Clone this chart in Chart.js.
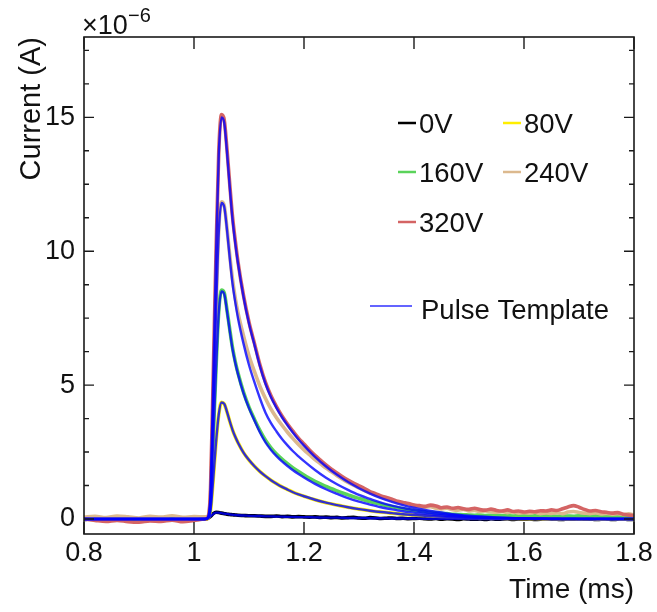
<!DOCTYPE html>
<html>
<head>
<meta charset="utf-8">
<script src="https://cdn.jsdelivr.net/npm/chart.js@4.4.1/dist/chart.umd.min.js"></script>
<style>
  html, body { margin: 0; padding: 0; background: #fff; }
  #wrap { width: 657px; height: 612px; position: relative; }
</style>
</head>
<body>
<div id="wrap"><canvas id="pulse_chart"></canvas></div>
<script>
// ---- data (current in units of 1e-6 A) ----
const xTicks = [0.8, 1, 1.2, 1.4, 1.6, 1.8];
const yTicks = [0, 5, 10, 15];
const voltLabels = ['0V', '80V', '160V', '240V', '320V'];

// measured traces share this time axis (ms)
const dataTime = [
  0.80, 0.82, 0.84, 0.86, 0.88, 0.90, 0.92, 0.94, 0.96, 0.98, 1.00, 1.02,
  1.025, 1.030, 1.035, 1.040, 1.045, 1.050, 1.055, 1.060, 1.065, 1.070, 1.075, 1.080,
  1.09, 1.10, 1.11, 1.12, 1.13, 1.14, 1.15, 1.16, 1.17, 1.18, 1.19, 1.20,
  1.21, 1.22, 1.23, 1.24, 1.25, 1.26, 1.27, 1.28, 1.29, 1.30,
  1.31, 1.32, 1.33, 1.34, 1.35, 1.36, 1.37, 1.38, 1.39, 1.40,
  1.41, 1.42, 1.43, 1.44, 1.45, 1.46, 1.47, 1.48, 1.49, 1.50,
  1.51, 1.52, 1.53, 1.54, 1.55, 1.56, 1.57, 1.58, 1.59, 1.60,
  1.61, 1.62, 1.63, 1.64, 1.65, 1.66, 1.67, 1.68, 1.69, 1.70,
  1.71, 1.72, 1.73, 1.74, 1.75, 1.76, 1.77, 1.78, 1.79, 1.80
];

const meas0V = [
  -0.02, 0.01, -0.03, 0.0, -0.02, 0.01, -0.01, -0.03, 0.0, -0.02, 0.0, -0.01,
  0.02, 0.1, 0.2, 0.25, 0.24, 0.22, 0.2, 0.18, 0.17, 0.16, 0.15, 0.14,
  0.13, 0.12, 0.12, 0.11, 0.1, 0.1, 0.11, 0.09, 0.1, 0.08, 0.09, 0.08,
  0.07, 0.08, 0.06, 0.07, 0.05, 0.06, 0.04, 0.05, 0.06, 0.04,
  0.03, 0.05, 0.04, 0.02, 0.03, 0.04, 0.02, 0.03, 0.01, 0.02,
  0.03, 0.01, 0.0, 0.02, -0.01, 0.01, 0.0, -0.02, 0.01, 0.0,
  -0.01, 0.0, -0.02, 0.01, -0.01, 0.0, 0.01, -0.02, 0.0, -0.01,
  0.0, -0.02, -0.01, 0.01, 0.0, -0.01, -0.02, 0.0, -0.01, 0.01,
  -0.01, 0.0, -0.02, -0.01, 0.0, -0.02, -0.01, 0.0, -0.02, -0.01
];
const meas80V = [
  0.02, -0.02, 0.0, 0.03, -0.01, 0.01, -0.02, 0.02, 0.0, -0.01, 0.02, 0.0,
  0.02, 0.3, 1.5, 2.85, 3.9, 4.36, 4.3, 4.0, 3.65, 3.33, 3.07, 2.85,
  2.48, 2.2, 1.97, 1.77, 1.6, 1.45, 1.32, 1.2, 1.1, 1.0, 0.92, 0.85,
  0.78, 0.72, 0.66, 0.61, 0.56, 0.52, 0.48, 0.44, 0.4, 0.37,
  0.34, 0.31, 0.28, 0.26, 0.24, 0.22, 0.2, 0.18, 0.16, 0.15,
  0.13, 0.12, 0.11, 0.1, 0.09, 0.08, 0.07, 0.06, 0.06, 0.05,
  0.05, 0.04, 0.04, 0.03, 0.03, 0.03, 0.02, 0.02, 0.02, 0.01,
  0.01, 0.02, 0.01, 0.0, 0.01, 0.0, 0.01, 0.0, 0.0, 0.01,
  0.0, 0.01, 0.0, -0.01, 0.0, 0.01, 0.0, -0.01, 0.0, 0.0
];
const meas160V = [
  0.04, 0.0, 0.03, -0.02, 0.03, 0.0, 0.02, -0.03, 0.03, 0.0, 0.02, 0.01,
  0.05, 0.6, 3.05, 5.6, 7.75, 8.55, 8.45, 7.8, 7.08, 6.4, 5.88, 5.45,
  4.74, 4.18, 3.72, 3.3, 2.94, 2.66, 2.43, 2.24, 2.07, 1.91, 1.77, 1.64,
  1.52, 1.41, 1.31, 1.22, 1.13, 1.05, 0.97, 0.9, 0.83, 0.77,
  0.71, 0.65, 0.6, 0.55, 0.5, 0.46, 0.42, 0.38, 0.35, 0.32,
  0.3, 0.27, 0.25, 0.23, 0.21, 0.2, 0.18, 0.17, 0.16, 0.15,
  0.14, 0.15, 0.13, 0.14, 0.12, 0.13, 0.12, 0.11, 0.13, 0.12,
  0.11, 0.12, 0.1, 0.12, 0.11, 0.1, 0.12, 0.11, 0.1, 0.12,
  0.11, 0.1, 0.12, 0.1, 0.11, 0.09, 0.1, 0.11, 0.09, 0.1
];
const meas240V = [
  0.07, 0.1, 0.05, 0.11, 0.08, 0.04, 0.1, 0.07, 0.12, 0.06, 0.09, 0.08,
  0.1, 0.9, 4.3, 7.8, 10.8, 11.85, 11.7, 10.85, 9.85, 8.95, 8.25, 7.7,
  6.85, 6.1, 5.5, 4.95, 4.5, 4.1, 3.78, 3.5, 3.24, 3.0, 2.78, 2.58,
  2.4, 2.22, 2.06, 1.9, 1.76, 1.62, 1.49, 1.37, 1.26, 1.16,
  1.06, 0.98, 0.9, 0.82, 0.76, 0.69, 0.63, 0.58, 0.54, 0.5,
  0.47, 0.44, 0.46, 0.4, 0.38, 0.4, 0.35, 0.33, 0.36, 0.3,
  0.32, 0.28, 0.3, 0.27, 0.25, 0.28, 0.24, 0.26, 0.22, 0.24,
  0.22, 0.25, 0.2, 0.23, 0.21, 0.24, 0.2, 0.26, 0.28, 0.24,
  0.22, 0.2, 0.23, 0.19, 0.21, 0.18, 0.2, 0.17, 0.19, 0.16
];
const meas320V = [
  0.0, -0.05, -0.09, -0.05, -0.1, -0.12, -0.07, -0.09, -0.04, -0.1, -0.05, 0.0,
  0.05, 1.1, 5.4, 9.9, 13.7, 15.1, 14.9, 13.8, 12.5, 11.3, 10.4, 9.6,
  8.35, 7.35, 6.55, 5.75, 5.1, 4.6, 4.2, 3.85, 3.55, 3.28, 3.02, 2.8,
  2.58, 2.38, 2.2, 2.02, 1.86, 1.72, 1.58, 1.45, 1.34, 1.24,
  1.14, 1.02, 0.95, 0.86, 0.8, 0.74, 0.66, 0.62, 0.58, 0.52,
  0.5, 0.47, 0.52, 0.49, 0.42, 0.45, 0.4, 0.43, 0.38, 0.36,
  0.4, 0.35, 0.33, 0.37, 0.32, 0.3, 0.34, 0.28, 0.3, 0.26,
  0.29, 0.27, 0.31, 0.3, 0.34, 0.32, 0.38, 0.45, 0.5, 0.44,
  0.36, 0.3, 0.32, 0.27, 0.25, 0.22, 0.24, 0.18, 0.15, 0.12
];

// pulse template fits share this time axis (ms)
const tplTime = [
  0.80, 0.90, 1.00, 1.02,
  1.025, 1.030, 1.035, 1.040, 1.045, 1.050, 1.055, 1.060, 1.065, 1.070, 1.075, 1.080,
  1.09, 1.10, 1.11, 1.12, 1.13, 1.14, 1.15, 1.16, 1.17, 1.18, 1.19, 1.20,
  1.22, 1.24, 1.26, 1.28, 1.30, 1.32, 1.34, 1.36, 1.38, 1.40, 1.42, 1.44, 1.46, 1.48, 1.50,
  1.55, 1.60, 1.70, 1.80
];
const tpl0V = [
  0, 0, 0, 0,
  0.02, 0.1, 0.19, 0.24, 0.24, 0.22, 0.2, 0.19, 0.17, 0.16, 0.15, 0.14,
  0.13, 0.12, 0.11, 0.11, 0.1, 0.1, 0.09, 0.09, 0.08, 0.08, 0.07, 0.07,
  0.06, 0.05, 0.05, 0.04, 0.04, 0.03, 0.03, 0.02, 0.02, 0.02, 0.01, 0.01, 0.01, 0.01, 0,
  0, 0, 0, 0
];
const tpl80V = [
  0, 0, 0, 0,
  0.02, 0.3, 1.5, 2.85, 3.9, 4.35, 4.3, 4.0, 3.65, 3.33, 3.07, 2.85,
  2.48, 2.2, 1.97, 1.77, 1.6, 1.45, 1.32, 1.2, 1.1, 1.0, 0.92, 0.85,
  0.72, 0.61, 0.52, 0.44, 0.37, 0.31, 0.26, 0.22, 0.18, 0.15, 0.12, 0.1, 0.08, 0.06, 0.05,
  0.03, 0.01, 0, 0
];
const tpl160V = [
  0, 0, 0, 0,
  0.03, 0.57, 3.0, 5.55, 7.7, 8.5, 8.4, 7.76, 7.03, 6.35, 5.84, 5.41,
  4.7, 4.14, 3.68, 3.23, 2.86, 2.58, 2.35, 2.15, 1.98, 1.82, 1.68, 1.55,
  1.31, 1.11, 0.94, 0.78, 0.65, 0.54, 0.44, 0.36, 0.29, 0.24, 0.19, 0.15, 0.12, 0.09, 0.07,
  0.03, 0.02, 0, 0
];
const tpl240V = [
  0, 0, 0, 0,
  0.05, 0.8, 4.2, 7.7, 10.7, 11.8, 11.65, 10.8, 9.75, 8.8, 8.1, 7.5,
  6.55, 5.75, 5.1, 4.5, 3.97, 3.58, 3.27, 2.99, 2.75, 2.53, 2.34, 2.16,
  1.83, 1.54, 1.3, 1.09, 0.9, 0.75, 0.61, 0.5, 0.41, 0.33, 0.27, 0.21, 0.17, 0.13, 0.09,
  0.05, 0.02, 0, 0
];
const tpl320V = [
  0, 0, 0, 0,
  0.05, 1.0, 5.3, 9.8, 13.6, 15.0, 14.8, 13.7, 12.4, 11.2, 10.3, 9.55,
  8.3, 7.3, 6.5, 5.7, 5.05, 4.55, 4.15, 3.8, 3.5, 3.22, 2.97, 2.74,
  2.32, 1.96, 1.65, 1.38, 1.15, 0.95, 0.78, 0.64, 0.52, 0.42, 0.34, 0.27, 0.21, 0.16, 0.12,
  0.06, 0.03, 0.01, 0
];

// ---- styling ----
const FONT = '"Liberation Sans", Arial, Helvetica, sans-serif';
const measColors = ['#000000', '#ffee00', '#5ad35a', '#dcb98e', '#d46464'];
const tplColor = 'rgba(0, 0, 255, 0.8)';
const tplLegendColor = '#6464ff';

const pts = (xs, ys) => xs.map((t, i) => ({x: t, y: ys[i]}));

const measSeries = [meas0V, meas80V, meas160V, meas240V, meas320V];
const tplSeries = [tpl0V, tpl80V, tpl160V, tpl240V, tpl320V];

const datasets = [];
tplSeries.forEach((s, i) => {
    datasets.push({
        label: 'Pulse Template ' + voltLabels[i],
        data: pts(tplTime, s),
        borderColor: tplColor,
        borderWidth: 2.4,
        pointRadius: 0,
        fill: false,
        cubicInterpolationMode: 'monotone',
        order: 0
    });
});
measSeries.forEach((s, i) => {
    datasets.push({
        label: voltLabels[i],
        data: pts(dataTime, s),
        borderColor: measColors[i],
        borderWidth: 3.6,
        pointRadius: 0,
        fill: false,
        cubicInterpolationMode: 'monotone',
        order: 6 - i
    });
});

// frame with inward ticks, legend inside the plot, and the x10^-6 multiplier
const framePlugin = {
    id: 'frameLegend',
    afterDatasetsDraw(chart) {
        const {ctx, chartArea: a, scales: {x, y}} = chart;
        ctx.save();
        ctx.strokeStyle = '#1a1a1a';
        ctx.lineWidth = 1.6;
        ctx.strokeRect(a.left, a.top, a.right - a.left, a.bottom - a.top);

        ctx.lineWidth = 1.4;
        ctx.beginPath();
        xTicks.forEach(v => {
            const px = x.getPixelForValue(v);
            ctx.moveTo(px, a.bottom); ctx.lineTo(px, a.bottom - 12);
            ctx.moveTo(px, a.top); ctx.lineTo(px, a.top + 12);
        });
        for (let i = 0; i <= 14; i++) {
            const v = i * 1.25;
            const py = y.getPixelForValue(v);
            const len = (i % 4 === 0) ? 10 : 5;
            ctx.moveTo(a.left, py); ctx.lineTo(a.left + len, py);
            ctx.moveTo(a.right, py); ctx.lineTo(a.right - len, py);
        }
        ctx.stroke();

        // legend
        const spots = [[398, 123], [503, 123], [398, 172], [503, 172], [398, 222]];
        ctx.font = '27.5px ' + FONT;
        ctx.textBaseline = 'alphabetic';
        voltLabels.forEach((lab, i) => {
            const [lx, ly] = spots[i];
            ctx.strokeStyle = measColors[i];
            ctx.lineWidth = 2.5;
            ctx.beginPath();
            ctx.moveTo(lx, ly); ctx.lineTo(lx + 18, ly);
            ctx.stroke();
            ctx.fillStyle = '#111';
            ctx.fillText(lab, lx + 21, ly + 10);
        });
        ctx.strokeStyle = tplLegendColor;
        ctx.lineWidth = 2.2;
        ctx.beginPath();
        ctx.moveTo(370, 306); ctx.lineTo(412, 306);
        ctx.stroke();
        ctx.fillText('Pulse Template', 421, 319);

        // multiplier
        ctx.font = '27px ' + FONT;
        ctx.fillText('\u00d710', 82, 34);
        ctx.font = '20px ' + FONT;
        ctx.fillText('\u22126', 128, 22);
        ctx.restore();
    }
};

const ctx = document.getElementById('pulse_chart').getContext('2d');
const pulseChart = new Chart(ctx, {
    type: 'line',
    data: {datasets: datasets},
    options: {
        responsive: true,
        maintainAspectRatio: false,
        animation: false,
        events: [],
        layout: {padding: {top: 37, right: 23, left: 0, bottom: 0}},
        plugins: {
            legend: {display: false},
            tooltip: {enabled: false},
            title: {display: false}
        },
        scales: {
            x: {
                type: 'linear',
                min: 0.8,
                max: 1.8,
                afterBuildTicks: (scale) => { scale.ticks = xTicks.map(v => ({value: v})); },
                afterFit: (scale) => { scale.height = 78; },
                grid: {display: false, drawTicks: false},
                border: {display: false},
                ticks: {
                    autoSkip: false,
                    maxRotation: 0,
                    padding: 3,
                    color: '#111',
                    font: {family: FONT, size: 27},
                    callback: (v) => String(v)
                },
                title: {
                    display: true,
                    text: 'Time (ms)',
                    align: 'end',
                    color: '#111',
                    font: {family: FONT, size: 28},
                    padding: {top: 0, bottom: 5}
                }
            },
            y: {
                type: 'linear',
                min: -0.56,
                max: 18,
                afterBuildTicks: (scale) => { scale.ticks = yTicks.map(v => ({value: v})); },
                afterFit: (scale) => { scale.width = 84; },
                grid: {display: false, drawTicks: false},
                border: {display: false},
                ticks: {
                    padding: 9,
                    color: '#111',
                    font: {family: FONT, size: 27},
                    callback: (v) => String(v)
                },
                title: {
                    display: true,
                    text: 'Current (A)',
                    align: 'end',
                    color: '#111',
                    font: {family: FONT, size: 29},
                    padding: {top: 15, bottom: 0}
                }
            }
        }
    },
    plugins: [framePlugin]
});
</script>
</body>
</html>
